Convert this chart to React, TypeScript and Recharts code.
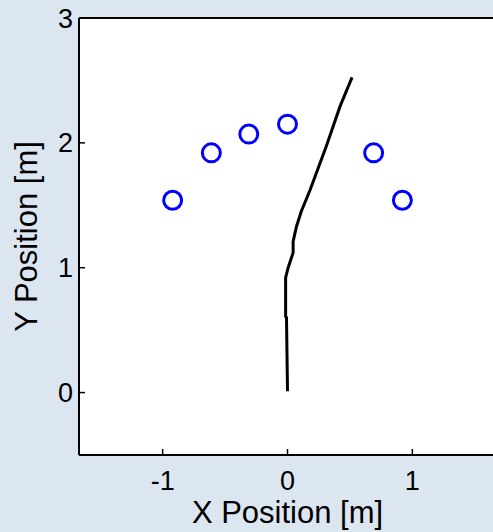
import { ScatterChart, Scatter, XAxis, YAxis } from "recharts";

// sensor positions (blue circles), metres
const sensorX = [-0.92, -0.61, -0.31, 0.0, 0.69, 0.92];
const sensorY = [1.54, 1.92, 2.07, 2.15, 1.92, 1.54];

// walked path (black line), metres
const pathX = [0.0, -0.008, -0.015, -0.015, 0.005, 0.045, 0.045, 0.072, 0.11, 0.18, 0.31, 0.42, 0.517];
const pathY = [0.01, 0.6, 0.61, 0.92, 1.0, 1.12, 1.21, 1.33, 1.45, 1.62, 1.97, 2.29, 2.525];

const xTicks = [-1, 0, 1];
const yTicks = [0, 1, 2, 3];

const sensors = sensorX.map((x, i) => ({ x, y: sensorY[i] }));
const path = pathX.map((x, i) => ({ x, y: pathY[i] }));

const FONT = "'Liberation Sans', Arial, sans-serif";
const BG = "#dce6f1";
const tickStyle = { fontSize: 27, fill: "#000", fontFamily: FONT };
const labelStyle = { fontSize: 31, fill: "#000", fontFamily: FONT, textAnchor: "middle" as const };

function Ring(props: any) {
  const { cx, cy } = props;
  return <circle cx={cx} cy={cy} r={9} fill="none" stroke="#0000ff" strokeWidth={3} />;
}

export default function App() {
  return (
    <div style={{ position: "absolute", left: 0, top: 0, width: 493, height: 532, overflow: "hidden", background: BG }}>
      <ScatterChart
        width={500}
        height={532}
        margin={{ top: 18, right: 4, bottom: 0, left: 0 }}
        style={{ fontFamily: FONT }}
      >
        <rect x={79} y={18} width={417} height={437} fill="#fff" />
        <XAxis
          xAxisId="b"
          type="number"
          dataKey="x"
          domain={[-1.67, 1.67]}
          allowDataOverflow
          ticks={xTicks}
          interval={0}
          height={77}
          tickSize={-6}
          tickMargin={22}
          tick={tickStyle}
          axisLine={{ stroke: "#000", strokeWidth: 2 }}
          tickLine={{ stroke: "#000", strokeWidth: 1.5 }}
          label={{ value: "X Position [m]", position: "center", dy: 18, style: labelStyle }}
        />
        <XAxis
          xAxisId="t"
          orientation="top"
          mirror
          type="number"
          dataKey="x"
          domain={[-1.67, 1.67]}
          allowDataOverflow
          ticks={xTicks}
          interval={0}
          tickSize={6}
          tick={false}
          axisLine={{ stroke: "#000", strokeWidth: 2 }}
          tickLine={{ stroke: "#000", strokeWidth: 1.5 }}
        />
        <YAxis
          yAxisId="l"
          type="number"
          dataKey="y"
          domain={[-0.5, 3]}
          allowDataOverflow
          ticks={yTicks}
          interval={0}
          width={79}
          tickSize={-6}
          tickMargin={12}
          tick={tickStyle}
          axisLine={{ stroke: "#000", strokeWidth: 2 }}
          tickLine={{ stroke: "#000", strokeWidth: 1.5 }}
          label={{ value: "Y Position [m]", angle: -90, position: "center", dx: -14, style: labelStyle }}
        />
        <YAxis
          yAxisId="r"
          orientation="right"
          mirror
          type="number"
          dataKey="y"
          domain={[-0.5, 3]}
          allowDataOverflow
          ticks={yTicks}
          interval={0}
          tickSize={6}
          tick={false}
          axisLine={{ stroke: "#000", strokeWidth: 2 }}
          tickLine={{ stroke: "#000", strokeWidth: 1.5 }}
        />
        <Scatter
          xAxisId="b"
          yAxisId="l"
          data={path}
          line={{ stroke: "#000", strokeWidth: 3 }}
          shape={() => <g />}
          isAnimationActive={false}
        />
        <Scatter
          xAxisId="b"
          yAxisId="l"
          data={sensors}
          shape={Ring}
          isAnimationActive={false}
        />
      </ScatterChart>
    </div>
  );
}
